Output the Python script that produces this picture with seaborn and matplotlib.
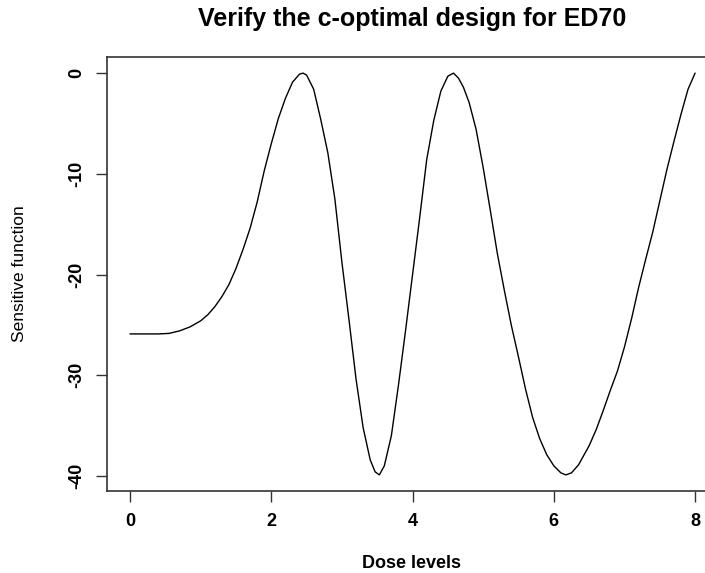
import numpy as np
import pandas as pd
import matplotlib
matplotlib.use("Agg")
import matplotlib.pyplot as plt
import seaborn as sns

# ============================================================
# Datos: funcion de sensibilidad vs dosis
# ============================================================
dose = [0.0, 0.2, 0.4, 0.55, 0.7, 0.85, 1.0, 1.1, 1.2, 1.3, 1.4, 1.5, 1.6, 1.7,
        1.8, 1.9, 2.0, 2.1, 2.2, 2.3, 2.4, 2.45, 2.5, 2.6, 2.7, 2.8, 2.9, 3.0,
        3.1, 3.2, 3.3, 3.4, 3.47, 3.53, 3.6, 3.7, 3.8, 3.9, 4.0, 4.1, 4.2, 4.3,
        4.4, 4.5, 4.58, 4.65, 4.72, 4.8, 4.9, 5.0, 5.1, 5.2, 5.3, 5.4, 5.5, 5.6,
        5.7, 5.8, 5.9, 6.0, 6.1, 6.17, 6.25, 6.35, 6.5, 6.6, 6.7, 6.8, 6.9, 7.0,
        7.1, 7.2, 7.3, 7.4, 7.5, 7.6, 7.7, 7.8, 7.9, 8.0]
sensitivity = [-25.9, -25.9, -25.9, -25.85, -25.6, -25.2, -24.6, -24.0, -23.2,
               -22.2, -21.0, -19.4, -17.5, -15.4, -12.8, -9.7, -7.0, -4.5, -2.5,
               -0.9, -0.1, 0.0, -0.2, -1.6, -4.6, -7.9, -12.5, -18.8, -24.5,
               -30.4, -35.2, -38.4, -39.6, -39.9, -39.0, -36.0, -31.0, -25.6,
               -20.0, -14.4, -8.6, -4.7, -1.8, -0.3, 0.0, -0.5, -1.4, -2.9, -5.6,
               -9.4, -13.6, -17.9, -21.6, -25.1, -28.2, -31.4, -34.2, -36.3,
               -37.9, -39.0, -39.7, -39.9, -39.7, -38.9, -37.0, -35.4, -33.5,
               -31.5, -29.6, -27.2, -24.4, -21.3, -18.5, -15.8, -12.7, -9.6,
               -6.8, -4.1, -1.6, 0.0]
x_ticks = [0, 2, 4, 6, 8]
y_ticks = [0, -10, -20, -30, -40]

df = pd.DataFrame({"dose": dose, "sens": sensitivity})

sns.set_style("white")
plt.rcParams["font.family"] = ["Liberation Sans", "DejaVu Sans"]
plt.rcParams["text.color"] = "black"
plt.rcParams["axes.labelcolor"] = "black"
plt.rcParams["xtick.color"] = "black"
plt.rcParams["ytick.color"] = "black"

fig = plt.figure(figsize=(7.05, 5.73), dpi=100)
# el eje se sale por la derecha (la imagen original esta recortada)
ax = fig.add_axes([0.1518, 0.1431, 0.8652, 0.7574])

sns.lineplot(data=df, x="dose", y="sens", color="black", linewidth=1.0, ax=ax)

ax.set_xlim(-0.326, 8.31)
ax.set_ylim(-41.5, 1.6)
ax.set_xticks(x_ticks)
ax.set_yticks(y_ticks)
ax.set_xticklabels([str(t) for t in x_ticks], fontsize=13, fontweight="bold")
ax.set_yticklabels([str(t) for t in y_ticks], fontsize=13, fontweight="bold",
                   rotation=90, va="center")
ax.tick_params(axis="both", which="both", direction="out", length=8, width=1,
               color="#333333", left=True, bottom=True, pad=8)

for side in ["left", "top", "bottom", "right"]:
    ax.spines[side].set_color("#333333")
    ax.spines[side].set_linewidth(1.2)

ax.set_title("Verify the c-optimal design for ED70", fontsize=18,
             fontweight="bold", pad=22, color="black")
ax.set_xlabel("Dose levels", fontsize=13, fontweight="bold")
ax.set_ylabel("Sensitive function", fontsize=12.5)
ax.xaxis.set_label_coords(0.499, -0.147)
ax.yaxis.set_label_coords(-0.131, 0.5)

fig.savefig("out.png", dpi=100)
plt.close(fig)
